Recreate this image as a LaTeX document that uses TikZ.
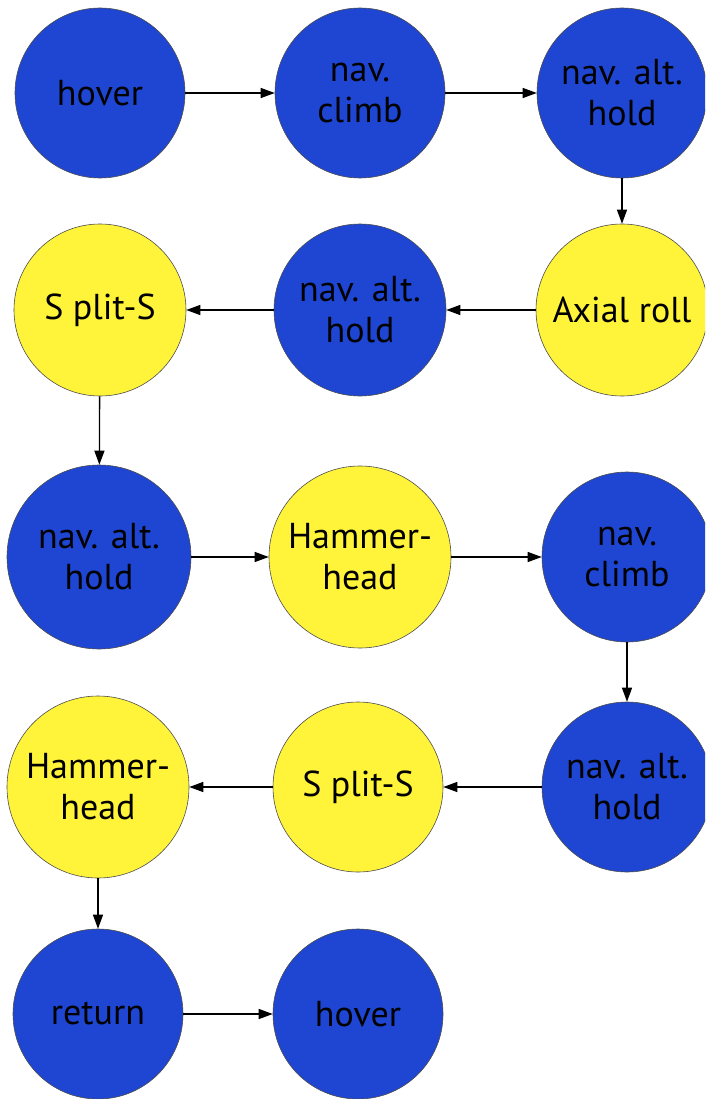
\documentclass[tikz,border=0pt]{standalone}
\usepackage{fontspec}
\setmainfont{PT Sans}
\usetikzlibrary{arrows.meta}
\definecolor{stateblue}{RGB}{30,70,210}
\definecolor{stateyellow}{RGB}{255,244,58}
\tikzset{
  state/.style={circle, draw=black!70, line width=0.6pt, inner sep=0pt,
    minimum size=#1, align=center,
    font=\fontsize{36}{41}\selectfont},
  state/.default=170pt,
  nav/.style={state=#1, fill=stateblue},
  nav/.default=170pt,
  move/.style={state=#1, fill=stateyellow},
  move/.default=170pt,
  flow/.style={draw=black, line width=1.3pt,
    -{Triangle[length=14pt,width=10pt]}}
}
\begin{document}
\begin{tikzpicture}[x=1pt,y=-1pt]
  \useasboundingbox (0,0) rectangle (705,1099);
  \clip (0,0) rectangle (705,1099);
  \fill[white] (0,0) rectangle (705,1099);

  % first row
  \node[nav] (hoverA) at (100,93) {hover};
  \node[nav] (climbA) at (360,93) {nav.\\climb};
  \node[nav] (holdA)  at (622,93) {nav. alt.\\hold};
  % second row
  \node[move=172pt] (splitA) at (100,310) {S plit-S};
  \node[nav=172pt]  (holdB)  at (360,310) {nav. alt.\\hold};
  \node[move=172pt] (roll)   at (622,310) {Axial roll};
  % third row
  \node[nav=184pt]  (holdC)   at (99,557)  {nav. alt.\\hold};
  \node[move=182pt] (hammerA) at (360,557) {Hammer-\\head};
  \node[nav]        (climbB)  at (627,557) {nav.\\climb};
  % fourth row
  \node[move=182pt] (hammerB) at (98,787)  {Hammer-\\head};
  \node[move]       (splitB)  at (358,787) {S plit-S};
  \node[nav]        (holdD)   at (627,787) {nav. alt.\\hold};
  % fifth row
  \node[nav] (ret)    at (98,1014)  {return};
  \node[nav] (hoverB) at (358,1014) {hover};

  % sequence of manoeuvres
  \draw[flow] (hoverA) -- (climbA);
  \draw[flow] (climbA) -- (holdA);
  \draw[flow] (holdA) -- (roll);
  \draw[flow] (roll) -- (holdB);
  \draw[flow] (holdB) -- (splitA);
  \draw[flow] (splitA) -- (holdC);
  \draw[flow] (holdC) -- (hammerA);
  \draw[flow] (hammerA) -- (climbB);
  \draw[flow] (climbB) -- (holdD);
  \draw[flow] (holdD) -- (splitB);
  \draw[flow] (splitB) -- (hammerB);
  \draw[flow] (hammerB) -- (ret);
  \draw[flow] (ret) -- (hoverB);
\end{tikzpicture}
\end{document}
